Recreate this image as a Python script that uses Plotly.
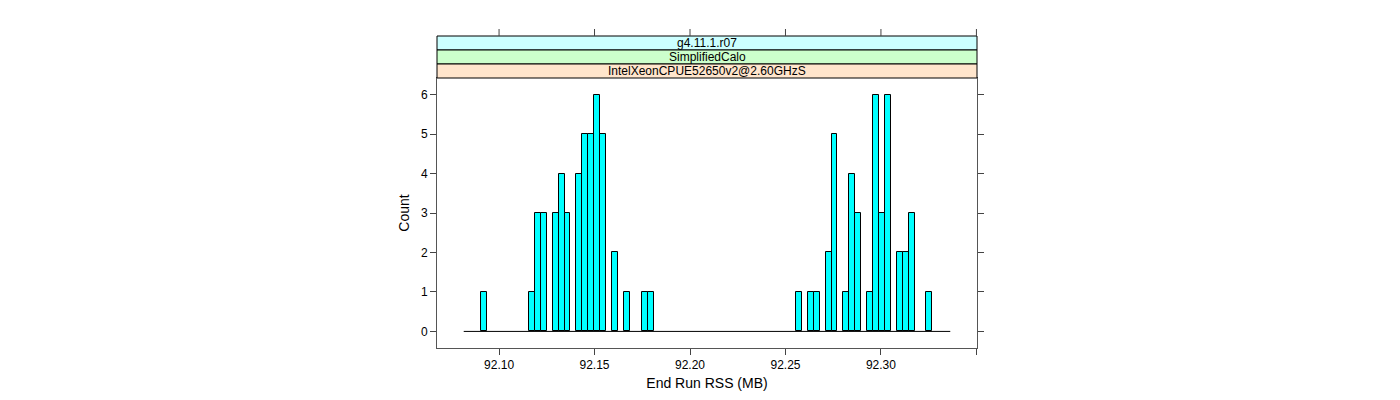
import plotly.graph_objects as go

# ---- data ----
bin_width = 0.003107
baseline_range = [92.0815, 92.3363]
bin_left = [92.0908, 92.1157, 92.1188, 92.1219, 92.1281, 92.1312, 92.1343,
            92.1405, 92.1436, 92.1467, 92.1499, 92.1530, 92.1592, 92.1654,
            92.1747, 92.1778,
            92.2555, 92.2617, 92.2648, 92.2710, 92.2741, 92.2803, 92.2835,
            92.2866, 92.2928, 92.2959, 92.2990, 92.3021, 92.3083, 92.3114,
            92.3145, 92.3238]
counts = [1, 1, 3, 3, 3, 4, 3,
          4, 5, 5, 6, 5, 2, 1,
          1, 1,
          1, 1, 1, 2, 5, 1, 4,
          3, 1, 6, 3, 6, 2, 2,
          3, 1]
x_ticks = [92.10, 92.15, 92.20, 92.25, 92.30, 92.35]
x_ticktext = ["92.10", "92.15", "92.20", "92.25", "92.30", ""]
y_ticks = [0, 1, 2, 3, 4, 5, 6]
strip_labels = ["g4.11.1.r07", "SimplifiedCalo", "IntelXeonCPUE52650v2@2.60GHzS"]
strip_colors = ["#CCFFFF", "#CCFFCC", "#FFE5CC"]
x_title = "End Run RSS (MB)"
y_title = "Count"

FONT = "Liberation Sans, Arial, Helvetica, sans-serif"

fig = go.Figure()
fig.add_trace(go.Scatter(x=baseline_range, y=[0, 0], mode="lines",
                         line=dict(color="black", width=1),
                         hoverinfo="skip", showlegend=False))
fig.add_trace(go.Bar(x=bin_left, y=counts, width=bin_width, offset=0,
                     marker=dict(color="#00FFFF",
                                 line=dict(color="black", width=1)),
                     showlegend=False))

# plot area geometry (pixels)
top_px, bot_px = 78, 348
plot_h = bot_px - top_px
strip_h = 14
def py(px):
    return (bot_px - px) / plot_h

shapes = []
for i, (lab, col) in enumerate(zip(strip_labels, strip_colors)):
    # bottom strip index 2 sits directly on the panel
    k = len(strip_labels) - 1 - i
    y0 = 1 + k * strip_h / plot_h
    y1 = 1 + (k + 1) * strip_h / plot_h
    shapes.append(dict(type="rect", xref="paper", yref="paper", x0=0, x1=1,
                       y0=y0, y1=y1, fillcolor=col,
                       line=dict(color="black", width=1), layer="above"))
    fig.add_annotation(x=0.5, y=(y0 + y1) / 2, xref="paper", yref="paper",
                       text=lab, showarrow=False,
                       font=dict(family=FONT, size=12, color="black"),
                       xanchor="center", yanchor="middle")
strip_top = 1 + len(strip_labels) * strip_h / plot_h
for t in x_ticks:
    shapes.append(dict(type="line", xref="x", yref="paper", x0=t, x1=t,
                       y0=strip_top, y1=strip_top + 7 / plot_h,
                       line=dict(color="#444444", width=1)))
fig.update_layout(shapes=shapes)

fig.update_layout(
    width=1400, height=400,
    margin=dict(l=437, r=423, t=top_px, b=400 - bot_px, autoexpand=False),
    paper_bgcolor="white", plot_bgcolor="white",
    font=dict(family=FONT, size=12, color="black"),
    bargap=0,
)
fig.update_xaxes(range=[92.0675, 92.3503], tickvals=x_ticks, ticktext=x_ticktext,
                 ticks="outside", ticklen=6, tickcolor="#444444",
                 showline=True, linecolor="#555555", linewidth=1, mirror=True,
                 showgrid=False, zeroline=False,
                 title=dict(text=x_title, standoff=6),
                 tickfont=dict(size=12), automargin=False)
fig.update_yaxes(range=[-0.42, 6.42], tickvals=y_ticks,
                 ticks="outside", ticklen=6, tickcolor="#444444",
                 showline=True, linecolor="#555555", linewidth=1, mirror="ticks",
                 showgrid=False, zeroline=False,
                 title=dict(text=y_title, standoff=8),
                 tickfont=dict(size=12), automargin=False)

fig.write_html("out.html")
